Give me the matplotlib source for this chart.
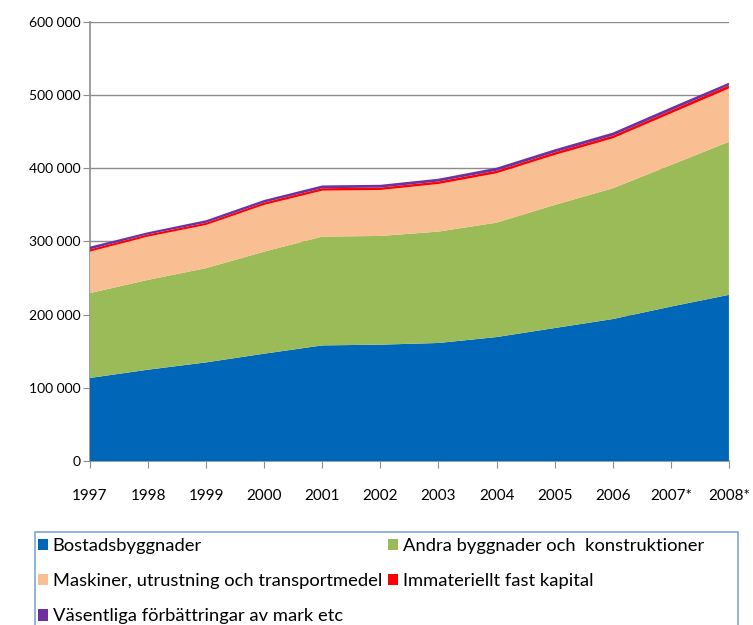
import matplotlib
matplotlib.use("Agg")
import matplotlib.pyplot as plt
from matplotlib.patches import Rectangle, Patch
from matplotlib.ticker import FuncFormatter
import numpy as np

years = ["1997", "1998", "1999", "2000", "2001", "2002", "2003", "2004",
         "2005", "2006", "2007*", "2008*"]
bostad = [113500, 124800, 134800, 146700, 158000, 159000, 161300, 169400,
          181700, 194000, 211000, 227100]
andra = [116000, 122800, 128800, 139500, 148700, 148600, 152200, 156400,
         168300, 178700, 193500, 209200]
maskiner = [56700, 59100, 59000, 63800, 62800, 62800, 65100, 67400,
            68200, 68200, 70500, 72800]
immat = [3000, 3000, 3000, 3200, 3300, 3300, 3400, 3500, 3600, 3700, 3900, 4200]
vasentl = [3800, 3000, 3500, 3600, 3800, 3800, 3800, 4200, 4100, 4200, 4300, 3700]

labels = ["Bostadsbyggnader", "Andra byggnader och  konstruktioner",
          "Maskiner, utrustning och transportmedel", "Immateriellt fast kapital",
          "Väsentliga förbättringar av mark etc"]
colors = ["#0066B8", "#9BBB59", "#F9BF92", "#FF0000", "#7030A0"]

fig = plt.figure(figsize=(7.53, 6.25), dpi=100)
ax = fig.add_axes([0.1195, 0.2624, 0.8485, 0.7024])

x = np.arange(len(years))
ax.stackplot(x, bostad, andra, maskiner, immat, vasentl, colors=colors,
             linewidth=0, zorder=3)

ax.set_xlim(0, len(years) - 1)
ax.set_ylim(0, 600000)
ax.set_yticks(np.arange(0, 600001, 100000))
ax.yaxis.set_major_formatter(FuncFormatter(lambda v, p: f"{int(v):,}".replace(",", " ")))
ax.grid(axis="y", color="#8C8C8C", linewidth=1.0, zorder=0)
ax.set_axisbelow(True)

ax.set_xticks(x)
ax.set_xticklabels(years, family="Lato", fontsize=11)
for lab in ax.get_yticklabels():
    lab.set_family("Lato")
    lab.set_fontsize(10)
ax.tick_params(axis="x", length=5, color="#8C8C8C", pad=15)
ax.tick_params(axis="y", length=5, color="#8C8C8C", pad=2)
for s in ["top", "right"]:
    ax.spines[s].set_visible(False)
for s in ["left", "bottom"]:
    ax.spines[s].set_color("#8C8C8C")
    ax.spines[s].set_linewidth(1.2)

# legend box (extends beyond figure bottom like reference)
fig.patches.append(Rectangle((35 / 753, -0.05), (738 - 35) / 753, (625 - 532) / 625 + 0.05,
                             transform=fig.transFigure, facecolor="white",
                             edgecolor="#7FA5D6", linewidth=1.2, zorder=0))
handles = [Patch(facecolor=c, edgecolor="none") for c in colors]
order = [0, 2, 4, 1, 3]
leg = fig.legend([handles[i] for i in order], [labels[i] for i in order],
                 ncol=2, loc="upper left", bbox_to_anchor=(38 / 753, 1 - 538 / 625),
                 frameon=False, prop={"family": "Lato", "size": 13.2},
                 handlelength=0.55, handleheight=0.55, handletextpad=0.25,
                 columnspacing=0.35, labelspacing=1.05, borderaxespad=0, borderpad=0)

fig.savefig("out.png", dpi=100)
